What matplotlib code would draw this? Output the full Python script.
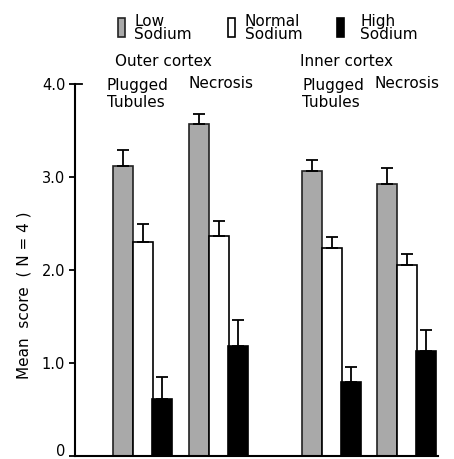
import matplotlib
matplotlib.use('Agg')
import matplotlib.pyplot as plt
from matplotlib.patches import Rectangle

# data
groups = ['Outer Plugged Tubules', 'Outer Necrosis', 'Inner Plugged Tubules', 'Inner Necrosis']
low_mean = [3.12, 3.57, 3.06, 2.93]
low_err = [0.17, 0.11, 0.12, 0.17]
normal_mean = [2.30, 2.37, 2.24, 2.05]
normal_err = [0.19, 0.16, 0.11, 0.12]
high_mean = [0.61, 1.18, 0.80, 1.13]
high_err = [0.24, 0.28, 0.16, 0.23]
yticks = [0, 1, 2, 3, 4]
ytick_labels = ['0', '1.0', '2.0', '3.0', '4.0']

group_start = [1.9, 5.7, 11.35, 15.1]
W, H = 454, 459
GRAY = '#a9a9a9'
FS = 11

fig = plt.figure(figsize=(W / 100, H / 100), dpi=100)
ax = fig.add_axes([75 / W, 3 / H, 363 / W, 372 / H])

def bars(offset, means, errs, color, edge):
    xs = [g + offset for g in group_start]
    ax.bar(xs, means, width=0.98, align='edge', color=color,
           edgecolor=edge, linewidth=1.2, zorder=2)
    ax.errorbar([x + 0.49 for x in xs], means, yerr=[[0] * len(errs), errs],
                fmt='none', ecolor='black', elinewidth=1.3, capsize=4,
                capthick=1.3, zorder=3)

bars(0.0, low_mean, low_err, GRAY, '#222222')
bars(1.0, normal_mean, normal_err, 'white', 'black')
bars(1.95, high_mean, high_err, 'black', 'black')

ax.set_xlim(0, 363 / 20)
ax.set_ylim(0, 4.0)
ax.set_xticks([])
ax.set_yticks(yticks)
ax.set_yticklabels(ytick_labels, fontsize=10.5)
ax.get_yticklabels()[0].set_va('baseline')
ax.tick_params(axis='y', direction='out', length=4, width=1.3, pad=3)
ax.spines['top'].set_visible(False)
ax.spines['right'].set_visible(False)
ax.spines['left'].set_linewidth(1.5)
ax.spines['bottom'].set_linewidth(1.5)
ax.axhline(4.0, xmin=0, xmax=7 / 363, color='black', lw=1.3, clip_on=False)

fig.text(24 / W, 1 - 295 / H, 'Mean  score  ( N = 4 )', rotation=90,
         ha='center', va='center', fontsize=FS)

# legend drawn by hand
legend = [(118, 'Low\nSodium', GRAY, '#222222', 134),
          (228, 'Normal\nSodium', 'white', 'black', 245),
          (337, 'High\nSodium', 'black', 'black', 360)]
for px, lab, fc, ec, tx in legend:
    fig.patches.append(Rectangle((px / W, 1 - 37 / H), 7 / W, 19 / H,
                                 transform=fig.transFigure, facecolor=fc,
                                 edgecolor=ec, linewidth=1.2))
    fig.text(tx / W, 1 - 28 / H, lab, ha='left', va='center', fontsize=FS,
             linespacing=0.9)

fig.text(115 / W, 1 - 62 / H, 'Outer cortex', ha='left', va='center', fontsize=FS)
fig.text(300 / W, 1 - 62 / H, 'Inner cortex', ha='left', va='center', fontsize=FS)
for x0, x1 in [(107, 188), (302, 375)]:
    fig.text(x0 / W, 1 - 94 / H, 'Plugged\nTubules', ha='left', va='center',
             fontsize=FS, linespacing=1.2)
    fig.text(x1 / W, 1 - 84 / H, 'Necrosis', ha='left', va='center', fontsize=FS)

fig.savefig('out.png', dpi=100)
